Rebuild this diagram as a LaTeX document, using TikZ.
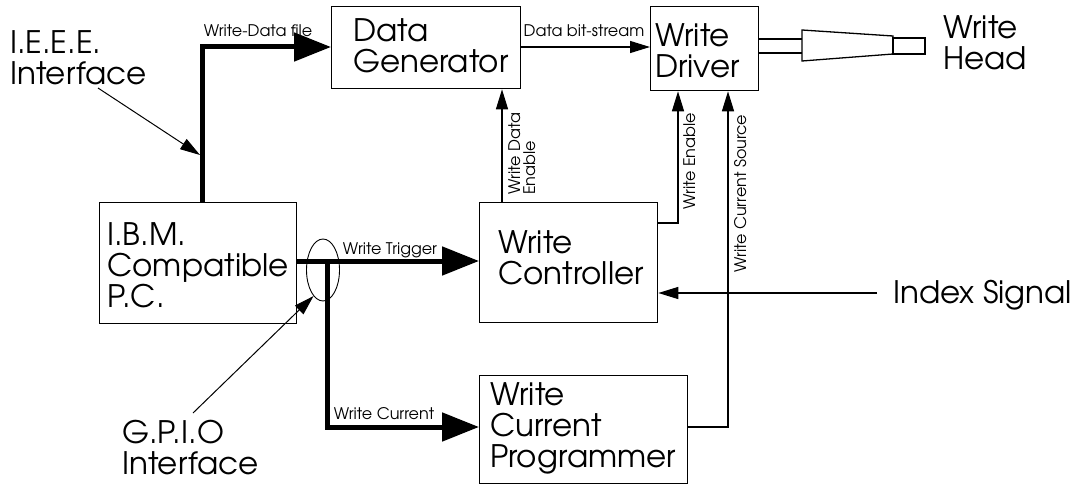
\documentclass[tikz,border=0pt]{standalone}
\usepackage{fontspec}
\setmainfont{texgyreadventor-regular.otf}
\usetikzlibrary{arrows.meta,shapes.geometric}

\tikzset{
  blk/.style={draw, line width=1.3pt, inner sep=0pt, anchor=north west},
  big/.style={font=\fontsize{31}{31}\selectfont, align=left, inner sep=0pt, anchor=north west},
  small/.style={font=\fontsize{16}{15}\selectfont, align=left, inner sep=0pt},
  bus/.style={line width=5pt, line join=miter, -{Triangle[length=37pt,width=28pt]}},
  sig/.style={line width=1.3pt, -{Triangle[length=20pt,width=12pt]}},
  pointer/.style={line width=1pt, -{Triangle[length=20pt,width=12pt]}},
  wire/.style={line width=1.3pt},
}

\begin{document}
\begin{tikzpicture}[x=1pt, y=-1pt]
\useasboundingbox (0,0) rectangle (1092,487);

% functional blocks
\node[blk, minimum width=189pt, minimum height=82pt] (dg)   at (331,6)   {};
\node[blk, minimum width=108pt, minimum height=84pt] (wd)   at (650,6)   {};
\node[blk, minimum width=197pt, minimum height=121pt] (ibm) at (99,202)  {};
\node[blk, minimum width=178pt, minimum height=120pt] (ctrl) at (479,202) {};
\node[blk, minimum width=208pt, minimum height=108pt] (wcp) at (479,375) {};

% block captions
\node[big] (dgtxt)   at (353,18)  {Data\\Generator};
\node[big] (wdtxt)   at (655,23)  {Write\\Driver};
\node[big] (ibmtxt)  at (107,222) {I.B.M.\\Compatible\\P.C.};
\node[big] (ctrltxt) at (498,230) {Write\\Controller};
\node[big] (wcptxt)  at (490,382) {Write\\Current\\Programmer};

% free-standing captions
\node[big] (ieee)  at (10,30)   {I.E.E.E.\\Interface};
\node[big] (gpio)  at (122,420) {G.P.I.O\\Interface};
\node[big] (whead) at (943,15)  {Write\\Head};
\node[big] (index) at (893,280) {Index Signal};

% write head sketch
\coordinate (arm1) at (802,39);
\coordinate (arm2) at (802,53);
\draw[wire] (wd.east |- arm1) -- (arm1);
\draw[wire] (wd.east |- arm2) -- (arm2);
\draw[wire] (802,30) -- (893,36) -- (893,54) -- (802,61) -- cycle;
\draw[wire] (893,38) rectangle (925,54);

% PC buses
\coordinate (wdf) at (202,47);
\draw[bus] (ibm.north -| wdf) |- (dg.west |- wdf);
\node[small, anchor=base] (lwdf) at (258,37) {Write-Data file};

\coordinate (trig) at (296,261);
\draw[bus] (trig) -- (ctrl.west |- trig);
\node[small, anchor=base] (ltrig) at (390,254) {Write Trigger};

\coordinate (cur) at (327,427);
\draw[bus] (cur |- trig) -- (cur) -- (wcp.west |- cur);
\node[small, anchor=base] (lcur) at (384,419) {Write Current};

% interface pointers
\node[draw, ellipse, line width=0.9pt, minimum width=33pt, minimum height=62pt, inner sep=0pt] (ring) at (323,270) {};
\coordinate (ieeetip) at (200,155);
\draw[pointer] (98,88) -- (ieeetip);
\draw[pointer] (193,413) -- (ring.250);

% data path
\coordinate (bits) at (520,47);
\draw[sig] (bits) -- (wd.west |- bits);
\node[small, anchor=base] (lbits) at (584,37) {Data bit-stream};

% control lines
\coordinate (wde) at (502,0);
\draw[sig] (ctrl.north -| wde) -- (dg.south -| wde);
\node[small, rotate=90, anchor=north west] (lwde) at (508,195) {Write Data\\Enable};

\coordinate (we) at (678,223);
\draw[sig] (ctrl.east |- we) -- (we) -- (wd.south -| we);
\node[small, rotate=90, anchor=north west] (lwe) at (683,210) {Write Enable};

\coordinate (wcs) at (728,427);
\draw[sig] (wcp.east |- wcs) -- (wcs) -- (wd.south -| wcs);
\node[small, rotate=90, anchor=north west] (lwcs) at (734,273) {Write Current Source};

\coordinate (idx) at (877,293);
\draw[sig] (idx) -- (ctrl.east |- idx);
\end{tikzpicture}
\end{document}
